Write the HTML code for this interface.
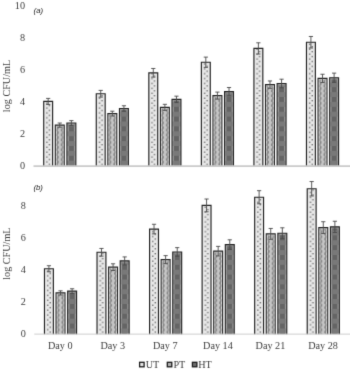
<!DOCTYPE html>
<html><head><meta charset="utf-8"><title>chart</title>
<style>
html,body{margin:0;padding:0;background:#fff;}
body{width:350px;height:371px;overflow:hidden;}
svg{display:block;}
text{font-family:"Liberation Serif",serif;fill:#3c3c3c;}
.s{font-family:"Liberation Sans",sans-serif;font-style:italic;fill:#1e1e1e;}
</style></head><body>
<svg width="350" height="371" viewBox="0 0 350 371">
<defs>
<pattern id="pu" x="-6" y="0" width="12" height="4.9" patternUnits="userSpaceOnUse"><rect width="12" height="4.9" fill="#e8e8e8"/><rect x="4.2" y="0.6" width="1.2" height="1.2" fill="#484848"/><rect x="6.65" y="3.05" width="1.2" height="1.2" fill="#484848"/></pattern>
<pattern id="pp" x="0" y="0" width="4.9" height="4.9" patternUnits="userSpaceOnUse"><rect width="4.9" height="4.9" fill="#c6c6c6"/><path d="M2.45 0C3.15 0.83 3.15 1.62 2.45 2.45S1.75 4.07 2.45 4.9" stroke="#7e7e7e" stroke-width="1.7" fill="none"/></pattern>
<pattern id="ph" x="-2.45" y="0" width="9.8" height="9.8" patternUnits="userSpaceOnUse"><rect width="9.8" height="9.8" fill="#797979"/><rect x="0" y="0" width="4.9" height="4.9" fill="#646464"/><rect x="4.9" y="4.9" width="4.9" height="4.9" fill="#646464"/></pattern>
<filter id="bl" x="0" y="0" width="350" height="371" filterUnits="userSpaceOnUse" color-interpolation-filters="sRGB"><feConvolveMatrix order="3" kernelMatrix="0.0113 0.0838 0.0113 0.0838 0.6193 0.0838 0.0113 0.0838 0.0113" divisor="1" edgeMode="duplicate" preserveAlpha="false"/></filter>
</defs>
<rect width="350" height="371" fill="#fff"/>
<g filter="url(#bl)">

<g transform="translate(48.17,165.6)"><rect x="-4.45" y="-64.16" width="8.9" height="64.66" fill="url(#pu)"/><path d="M-4.45 0.5V-64.16H4.45V0.5" fill="none" stroke="#222" stroke-width="1.15"/>
<path d="M0 -67.20V-61.12M-2.1 -67.20H2.1M-2.1 -61.12H2.1" stroke="#484848" stroke-width="0.9" fill="none"/></g>
<g transform="translate(59.77,165.6)"><rect x="-4.45" y="-40.48" width="8.9" height="40.98" fill="url(#pp)"/><path d="M-4.45 0.5V-40.48H4.45V0.5" fill="none" stroke="#222" stroke-width="1.15"/>
<path d="M-3.35 0.5V-39.38H3.35V0.5" fill="none" stroke="#fff" stroke-opacity="0.4" stroke-width="1.1"/>
<path d="M0 -42.56V-38.40M-2.1 -42.56H2.1M-2.1 -38.40H2.1" stroke="#484848" stroke-width="0.9" fill="none"/></g>
<g transform="translate(71.38,165.6)"><rect x="-4.45" y="-42.56" width="8.9" height="43.06" fill="url(#ph)"/><path d="M-4.45 0.5V-42.56H4.45V0.5" fill="none" stroke="#222" stroke-width="1.15"/>
<path d="M-3.35 0.5V-41.46H3.35V0.5" fill="none" stroke="#fff" stroke-opacity="0.3" stroke-width="1.1"/>
<path d="M0 -44.96V-40.16M-2.1 -44.96H2.1M-2.1 -40.16H2.1" stroke="#484848" stroke-width="0.9" fill="none"/></g>
<g transform="translate(100.72,165.6)"><rect x="-4.45" y="-71.84" width="8.9" height="72.34" fill="url(#pu)"/><path d="M-4.45 0.5V-71.84H4.45V0.5" fill="none" stroke="#222" stroke-width="1.15"/>
<path d="M0 -75.20V-68.48M-2.1 -75.20H2.1M-2.1 -68.48H2.1" stroke="#484848" stroke-width="0.9" fill="none"/></g>
<g transform="translate(112.32,165.6)"><rect x="-4.45" y="-52.00" width="8.9" height="52.50" fill="url(#pp)"/><path d="M-4.45 0.5V-52.00H4.45V0.5" fill="none" stroke="#222" stroke-width="1.15"/>
<path d="M-3.35 0.5V-50.90H3.35V0.5" fill="none" stroke="#fff" stroke-opacity="0.4" stroke-width="1.1"/>
<path d="M0 -54.40V-49.60M-2.1 -54.40H2.1M-2.1 -49.60H2.1" stroke="#484848" stroke-width="0.9" fill="none"/></g>
<g transform="translate(123.92,165.6)"><rect x="-4.45" y="-57.12" width="8.9" height="57.62" fill="url(#ph)"/><path d="M-4.45 0.5V-57.12H4.45V0.5" fill="none" stroke="#222" stroke-width="1.15"/>
<path d="M-3.35 0.5V-56.02H3.35V0.5" fill="none" stroke="#fff" stroke-opacity="0.3" stroke-width="1.1"/>
<path d="M0 -59.84V-54.40M-2.1 -59.84H2.1M-2.1 -54.40H2.1" stroke="#484848" stroke-width="0.9" fill="none"/></g>
<g transform="translate(153.28,165.6)"><rect x="-4.45" y="-92.80" width="8.9" height="93.30" fill="url(#pu)"/><path d="M-4.45 0.5V-92.80H4.45V0.5" fill="none" stroke="#222" stroke-width="1.15"/>
<path d="M0 -97.12V-88.48M-2.1 -97.12H2.1M-2.1 -88.48H2.1" stroke="#484848" stroke-width="0.9" fill="none"/></g>
<g transform="translate(164.88,165.6)"><rect x="-4.45" y="-58.24" width="8.9" height="58.74" fill="url(#pp)"/><path d="M-4.45 0.5V-58.24H4.45V0.5" fill="none" stroke="#222" stroke-width="1.15"/>
<path d="M-3.35 0.5V-57.14H3.35V0.5" fill="none" stroke="#fff" stroke-opacity="0.4" stroke-width="1.1"/>
<path d="M0 -61.28V-55.20M-2.1 -61.28H2.1M-2.1 -55.20H2.1" stroke="#484848" stroke-width="0.9" fill="none"/></g>
<g transform="translate(176.47,165.6)"><rect x="-4.45" y="-66.24" width="8.9" height="66.74" fill="url(#ph)"/><path d="M-4.45 0.5V-66.24H4.45V0.5" fill="none" stroke="#222" stroke-width="1.15"/>
<path d="M-3.35 0.5V-65.14H3.35V0.5" fill="none" stroke="#fff" stroke-opacity="0.3" stroke-width="1.1"/>
<path d="M0 -69.44V-63.04M-2.1 -69.44H2.1M-2.1 -63.04H2.1" stroke="#484848" stroke-width="0.9" fill="none"/></g>
<g transform="translate(205.82,165.6)"><rect x="-4.45" y="-103.36" width="8.9" height="103.86" fill="url(#pu)"/><path d="M-4.45 0.5V-103.36H4.45V0.5" fill="none" stroke="#222" stroke-width="1.15"/>
<path d="M0 -108.48V-98.24M-2.1 -108.48H2.1M-2.1 -98.24H2.1" stroke="#484848" stroke-width="0.9" fill="none"/></g>
<g transform="translate(217.42,165.6)"><rect x="-4.45" y="-70.00" width="8.9" height="70.50" fill="url(#pp)"/><path d="M-4.45 0.5V-70.00H4.45V0.5" fill="none" stroke="#222" stroke-width="1.15"/>
<path d="M-3.35 0.5V-68.90H3.35V0.5" fill="none" stroke="#fff" stroke-opacity="0.4" stroke-width="1.1"/>
<path d="M0 -73.52V-66.48M-2.1 -73.52H2.1M-2.1 -66.48H2.1" stroke="#484848" stroke-width="0.9" fill="none"/></g>
<g transform="translate(229.02,165.6)"><rect x="-4.45" y="-73.92" width="8.9" height="74.42" fill="url(#ph)"/><path d="M-4.45 0.5V-73.92H4.45V0.5" fill="none" stroke="#222" stroke-width="1.15"/>
<path d="M-3.35 0.5V-72.82H3.35V0.5" fill="none" stroke="#fff" stroke-opacity="0.3" stroke-width="1.1"/>
<path d="M0 -78.08V-69.76M-2.1 -78.08H2.1M-2.1 -69.76H2.1" stroke="#484848" stroke-width="0.9" fill="none"/></g>
<g transform="translate(258.38,165.6)"><rect x="-4.45" y="-117.20" width="8.9" height="117.70" fill="url(#pu)"/><path d="M-4.45 0.5V-117.20H4.45V0.5" fill="none" stroke="#222" stroke-width="1.15"/>
<path d="M0 -122.80V-111.60M-2.1 -122.80H2.1M-2.1 -111.60H2.1" stroke="#484848" stroke-width="0.9" fill="none"/></g>
<g transform="translate(269.98,165.6)"><rect x="-4.45" y="-80.96" width="8.9" height="81.46" fill="url(#pp)"/><path d="M-4.45 0.5V-80.96H4.45V0.5" fill="none" stroke="#222" stroke-width="1.15"/>
<path d="M-3.35 0.5V-79.86H3.35V0.5" fill="none" stroke="#fff" stroke-opacity="0.4" stroke-width="1.1"/>
<path d="M0 -84.64V-77.28M-2.1 -84.64H2.1M-2.1 -77.28H2.1" stroke="#484848" stroke-width="0.9" fill="none"/></g>
<g transform="translate(281.58,165.6)"><rect x="-4.45" y="-82.08" width="8.9" height="82.58" fill="url(#ph)"/><path d="M-4.45 0.5V-82.08H4.45V0.5" fill="none" stroke="#222" stroke-width="1.15"/>
<path d="M-3.35 0.5V-80.98H3.35V0.5" fill="none" stroke="#fff" stroke-opacity="0.3" stroke-width="1.1"/>
<path d="M0 -86.40V-77.76M-2.1 -86.40H2.1M-2.1 -77.76H2.1" stroke="#484848" stroke-width="0.9" fill="none"/></g>
<g transform="translate(310.92,165.6)"><rect x="-4.45" y="-123.36" width="8.9" height="123.86" fill="url(#pu)"/><path d="M-4.45 0.5V-123.36H4.45V0.5" fill="none" stroke="#222" stroke-width="1.15"/>
<path d="M0 -129.12V-117.60M-2.1 -129.12H2.1M-2.1 -117.60H2.1" stroke="#484848" stroke-width="0.9" fill="none"/></g>
<g transform="translate(322.52,165.6)"><rect x="-4.45" y="-87.20" width="8.9" height="87.70" fill="url(#pp)"/><path d="M-4.45 0.5V-87.20H4.45V0.5" fill="none" stroke="#222" stroke-width="1.15"/>
<path d="M-3.35 0.5V-86.10H3.35V0.5" fill="none" stroke="#fff" stroke-opacity="0.4" stroke-width="1.1"/>
<path d="M0 -91.36V-83.04M-2.1 -91.36H2.1M-2.1 -83.04H2.1" stroke="#484848" stroke-width="0.9" fill="none"/></g>
<g transform="translate(334.12,165.6)"><rect x="-4.45" y="-87.84" width="8.9" height="88.34" fill="url(#ph)"/><path d="M-4.45 0.5V-87.84H4.45V0.5" fill="none" stroke="#222" stroke-width="1.15"/>
<path d="M-3.35 0.5V-86.74H3.35V0.5" fill="none" stroke="#fff" stroke-opacity="0.3" stroke-width="1.1"/>
<path d="M0 -92.48V-83.20M-2.1 -92.48H2.1M-2.1 -83.20H2.1" stroke="#484848" stroke-width="0.9" fill="none"/></g>
<line x1="33.5" y1="166.1" x2="350" y2="166.1" stroke="#cacaca" stroke-width="1.7"/>
<g transform="translate(48.92,333.4)"><rect x="-4.45" y="-64.64" width="8.9" height="65.44" fill="url(#pu)"/><path d="M-4.45 0.8V-64.64H4.45V0.8" fill="none" stroke="#222" stroke-width="1.15"/>
<path d="M0 -67.68V-61.60M-2.1 -67.68H2.1M-2.1 -61.60H2.1" stroke="#484848" stroke-width="0.9" fill="none"/></g>
<g transform="translate(60.52,333.4)"><rect x="-4.45" y="-40.48" width="8.9" height="41.28" fill="url(#pp)"/><path d="M-4.45 0.8V-40.48H4.45V0.8" fill="none" stroke="#222" stroke-width="1.15"/>
<path d="M-3.35 0.8V-39.38H3.35V0.8" fill="none" stroke="#fff" stroke-opacity="0.4" stroke-width="1.1"/>
<path d="M0 -42.56V-38.40M-2.1 -42.56H2.1M-2.1 -38.40H2.1" stroke="#484848" stroke-width="0.9" fill="none"/></g>
<g transform="translate(72.12,333.4)"><rect x="-4.45" y="-42.24" width="8.9" height="43.04" fill="url(#ph)"/><path d="M-4.45 0.8V-42.24H4.45V0.8" fill="none" stroke="#222" stroke-width="1.15"/>
<path d="M-3.35 0.8V-41.14H3.35V0.8" fill="none" stroke="#fff" stroke-opacity="0.3" stroke-width="1.1"/>
<path d="M0 -44.64V-39.84M-2.1 -44.64H2.1M-2.1 -39.84H2.1" stroke="#484848" stroke-width="0.9" fill="none"/></g>
<g transform="translate(101.47,333.4)"><rect x="-4.45" y="-81.12" width="8.9" height="81.92" fill="url(#pu)"/><path d="M-4.45 0.8V-81.12H4.45V0.8" fill="none" stroke="#222" stroke-width="1.15"/>
<path d="M0 -84.96V-77.28M-2.1 -84.96H2.1M-2.1 -77.28H2.1" stroke="#484848" stroke-width="0.9" fill="none"/></g>
<g transform="translate(113.07,333.4)"><rect x="-4.45" y="-66.24" width="8.9" height="67.04" fill="url(#pp)"/><path d="M-4.45 0.8V-66.24H4.45V0.8" fill="none" stroke="#222" stroke-width="1.15"/>
<path d="M-3.35 0.8V-65.14H3.35V0.8" fill="none" stroke="#fff" stroke-opacity="0.4" stroke-width="1.1"/>
<path d="M0 -69.60V-62.88M-2.1 -69.60H2.1M-2.1 -62.88H2.1" stroke="#484848" stroke-width="0.9" fill="none"/></g>
<g transform="translate(124.67,333.4)"><rect x="-4.45" y="-72.48" width="8.9" height="73.28" fill="url(#ph)"/><path d="M-4.45 0.8V-72.48H4.45V0.8" fill="none" stroke="#222" stroke-width="1.15"/>
<path d="M-3.35 0.8V-71.38H3.35V0.8" fill="none" stroke="#fff" stroke-opacity="0.3" stroke-width="1.1"/>
<path d="M0 -76.48V-68.48M-2.1 -76.48H2.1M-2.1 -68.48H2.1" stroke="#484848" stroke-width="0.9" fill="none"/></g>
<g transform="translate(154.03,333.4)"><rect x="-4.45" y="-104.32" width="8.9" height="105.12" fill="url(#pu)"/><path d="M-4.45 0.8V-104.32H4.45V0.8" fill="none" stroke="#222" stroke-width="1.15"/>
<path d="M0 -109.12V-99.52M-2.1 -109.12H2.1M-2.1 -99.52H2.1" stroke="#484848" stroke-width="0.9" fill="none"/></g>
<g transform="translate(165.62,333.4)"><rect x="-4.45" y="-73.76" width="8.9" height="74.56" fill="url(#pp)"/><path d="M-4.45 0.8V-73.76H4.45V0.8" fill="none" stroke="#222" stroke-width="1.15"/>
<path d="M-3.35 0.8V-72.66H3.35V0.8" fill="none" stroke="#fff" stroke-opacity="0.4" stroke-width="1.1"/>
<path d="M0 -77.76V-69.76M-2.1 -77.76H2.1M-2.1 -69.76H2.1" stroke="#484848" stroke-width="0.9" fill="none"/></g>
<g transform="translate(177.22,333.4)"><rect x="-4.45" y="-81.44" width="8.9" height="82.24" fill="url(#ph)"/><path d="M-4.45 0.8V-81.44H4.45V0.8" fill="none" stroke="#222" stroke-width="1.15"/>
<path d="M-3.35 0.8V-80.34H3.35V0.8" fill="none" stroke="#fff" stroke-opacity="0.3" stroke-width="1.1"/>
<path d="M0 -85.76V-77.12M-2.1 -85.76H2.1M-2.1 -77.12H2.1" stroke="#484848" stroke-width="0.9" fill="none"/></g>
<g transform="translate(206.57,333.4)"><rect x="-4.45" y="-128.00" width="8.9" height="128.80" fill="url(#pu)"/><path d="M-4.45 0.8V-128.00H4.45V0.8" fill="none" stroke="#222" stroke-width="1.15"/>
<path d="M0 -134.40V-121.60M-2.1 -134.40H2.1M-2.1 -121.60H2.1" stroke="#484848" stroke-width="0.9" fill="none"/></g>
<g transform="translate(218.17,333.4)"><rect x="-4.45" y="-82.24" width="8.9" height="83.04" fill="url(#pp)"/><path d="M-4.45 0.8V-82.24H4.45V0.8" fill="none" stroke="#222" stroke-width="1.15"/>
<path d="M-3.35 0.8V-81.14H3.35V0.8" fill="none" stroke="#fff" stroke-opacity="0.4" stroke-width="1.1"/>
<path d="M0 -87.04V-77.44M-2.1 -87.04H2.1M-2.1 -77.44H2.1" stroke="#484848" stroke-width="0.9" fill="none"/></g>
<g transform="translate(229.77,333.4)"><rect x="-4.45" y="-88.80" width="8.9" height="89.60" fill="url(#ph)"/><path d="M-4.45 0.8V-88.80H4.45V0.8" fill="none" stroke="#222" stroke-width="1.15"/>
<path d="M-3.35 0.8V-87.70H3.35V0.8" fill="none" stroke="#fff" stroke-opacity="0.3" stroke-width="1.1"/>
<path d="M0 -93.60V-84.00M-2.1 -93.60H2.1M-2.1 -84.00H2.1" stroke="#484848" stroke-width="0.9" fill="none"/></g>
<g transform="translate(259.12,333.4)"><rect x="-4.45" y="-136.16" width="8.9" height="136.96" fill="url(#pu)"/><path d="M-4.45 0.8V-136.16H4.45V0.8" fill="none" stroke="#222" stroke-width="1.15"/>
<path d="M0 -142.72V-129.60M-2.1 -142.72H2.1M-2.1 -129.60H2.1" stroke="#484848" stroke-width="0.9" fill="none"/></g>
<g transform="translate(270.73,333.4)"><rect x="-4.45" y="-99.52" width="8.9" height="100.32" fill="url(#pp)"/><path d="M-4.45 0.8V-99.52H4.45V0.8" fill="none" stroke="#222" stroke-width="1.15"/>
<path d="M-3.35 0.8V-98.42H3.35V0.8" fill="none" stroke="#fff" stroke-opacity="0.4" stroke-width="1.1"/>
<path d="M0 -104.96V-94.08M-2.1 -104.96H2.1M-2.1 -94.08H2.1" stroke="#484848" stroke-width="0.9" fill="none"/></g>
<g transform="translate(282.33,333.4)"><rect x="-4.45" y="-100.16" width="8.9" height="100.96" fill="url(#ph)"/><path d="M-4.45 0.8V-100.16H4.45V0.8" fill="none" stroke="#222" stroke-width="1.15"/>
<path d="M-3.35 0.8V-99.06H3.35V0.8" fill="none" stroke="#fff" stroke-opacity="0.3" stroke-width="1.1"/>
<path d="M0 -105.60V-94.72M-2.1 -105.60H2.1M-2.1 -94.72H2.1" stroke="#484848" stroke-width="0.9" fill="none"/></g>
<g transform="translate(311.67,333.4)"><rect x="-4.45" y="-144.64" width="8.9" height="145.44" fill="url(#pu)"/><path d="M-4.45 0.8V-144.64H4.45V0.8" fill="none" stroke="#222" stroke-width="1.15"/>
<path d="M0 -151.84V-137.44M-2.1 -151.84H2.1M-2.1 -137.44H2.1" stroke="#484848" stroke-width="0.9" fill="none"/></g>
<g transform="translate(323.27,333.4)"><rect x="-4.45" y="-105.76" width="8.9" height="106.56" fill="url(#pp)"/><path d="M-4.45 0.8V-105.76H4.45V0.8" fill="none" stroke="#222" stroke-width="1.15"/>
<path d="M-3.35 0.8V-104.66H3.35V0.8" fill="none" stroke="#fff" stroke-opacity="0.4" stroke-width="1.1"/>
<path d="M0 -111.68V-99.84M-2.1 -111.68H2.1M-2.1 -99.84H2.1" stroke="#484848" stroke-width="0.9" fill="none"/></g>
<g transform="translate(334.88,333.4)"><rect x="-4.45" y="-106.56" width="8.9" height="107.36" fill="url(#ph)"/><path d="M-4.45 0.8V-106.56H4.45V0.8" fill="none" stroke="#222" stroke-width="1.15"/>
<path d="M-3.35 0.8V-105.46H3.35V0.8" fill="none" stroke="#fff" stroke-opacity="0.3" stroke-width="1.1"/>
<path d="M0 -112.16V-100.96M-2.1 -112.16H2.1M-2.1 -100.96H2.1" stroke="#484848" stroke-width="0.9" fill="none"/></g>
<line x1="34.25" y1="334.09999999999997" x2="350" y2="334.09999999999997" stroke="#cacaca" stroke-width="0.95"/>
<text x="25.0" y="168.9" font-size="10.2" text-anchor="end">0</text>
<text x="25.0" y="136.9" font-size="10.2" text-anchor="end">2</text>
<text x="25.0" y="104.9" font-size="10.2" text-anchor="end">4</text>
<text x="25.0" y="72.9" font-size="10.2" text-anchor="end">6</text>
<text x="25.0" y="40.9" font-size="10.2" text-anchor="end">8</text>
<text x="25.0" y="8.9" font-size="10.2" text-anchor="end">10</text>
<text x="25.8" y="336.7" font-size="10.2" text-anchor="end">0</text>
<text x="25.8" y="304.7" font-size="10.2" text-anchor="end">2</text>
<text x="25.8" y="272.7" font-size="10.2" text-anchor="end">4</text>
<text x="25.8" y="240.7" font-size="10.2" text-anchor="end">6</text>
<text x="25.8" y="208.7" font-size="10.2" text-anchor="end">8</text>
<text transform="translate(9.8,86) rotate(-90)" font-size="10.2" text-anchor="middle">log CFU/mL</text>
<text transform="translate(9.8,253.6) rotate(-90)" font-size="10.2" text-anchor="middle">log CFU/mL</text>
<text class="s" x="33.6" y="12.6" font-size="7.8">(a)</text>
<text class="s" x="33.4" y="189.7" font-size="7.8">(b)</text>
<text x="60.2" y="349.2" font-size="10.2" text-anchor="middle">Day 0</text>
<text x="112.8" y="349.2" font-size="10.2" text-anchor="middle">Day 3</text>
<text x="165.3" y="349.2" font-size="10.2" text-anchor="middle">Day 7</text>
<text x="217.9" y="349.2" font-size="10.2" text-anchor="middle">Day 14</text>
<text x="270.4" y="349.2" font-size="10.2" text-anchor="middle">Day 21</text>
<text x="323.0" y="349.2" font-size="10.2" text-anchor="middle">Day 28</text>
<rect x="139.6" y="362.3" width="4.5" height="4.5" fill="#e6e6e6" stroke="#1c1c1c" stroke-width="1.3"/>
<text x="145.7" y="367.5" font-size="10.2">UT</text>
<rect x="167.3" y="362.3" width="4.5" height="4.5" fill="#b0b0b0" stroke="#1c1c1c" stroke-width="1.3"/>
<text x="173.4" y="367.5" font-size="10.2">PT</text>
<rect x="192.4" y="362.3" width="4.5" height="4.5" fill="#6c6c6c" stroke="#1c1c1c" stroke-width="1.3"/>
<text x="198.2" y="367.5" font-size="10.2">HT</text>
</g></svg></body></html>
